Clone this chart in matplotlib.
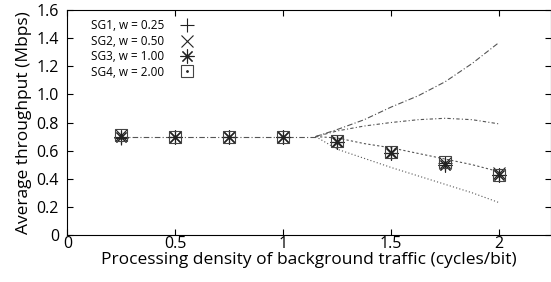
import matplotlib
matplotlib.use('Agg')
import matplotlib.pyplot as plt

# datos
x_pts = [0.25, 0.5, 0.75, 1.0, 1.25, 1.5, 1.75, 2.0]
sg1 = [0.69, 0.70, 0.70, 0.70, 0.66, 0.58, 0.51, 0.43]
sg2 = [0.71, 0.70, 0.70, 0.70, 0.67, 0.59, 0.51, 0.44]
sg3 = [0.70, 0.70, 0.70, 0.70, 0.66, 0.58, 0.50, 0.43]
sg4 = [0.71, 0.70, 0.70, 0.70, 0.67, 0.59, 0.52, 0.43]
labels = ['SG1, w = 0.25', 'SG2, w = 0.50', 'SG3, w = 1.00', 'SG4, w = 2.00']

# curvas teoricas
flat_x = [0.25, 1.15]
flat_y = [0.70, 0.70]
curve_x = [1.15, 1.25, 1.375, 1.5, 1.625, 1.75, 1.875, 2.0]
curve_a = [0.70, 0.75, 0.82, 0.91, 0.99, 1.09, 1.22, 1.37]
curve_b = [0.70, 0.74, 0.775, 0.80, 0.82, 0.83, 0.82, 0.79]
curve_c = [0.70, 0.69, 0.65, 0.62, 0.58, 0.54, 0.50, 0.45]
curve_d = [0.70, 0.61, 0.545, 0.48, 0.42, 0.36, 0.30, 0.23]

plt.rcParams['font.family'] = ['Open Sans', 'DejaVu Sans']

fig = plt.figure(figsize=(5.51, 2.82), dpi=100)
ax = fig.add_axes([0.1222, 0.1667, 0.8778, 0.7978])

lc = '#555555'
ax.plot(flat_x, flat_y, color=lc, lw=0.8, ls=(0, (5, 2, 1, 2)))
ax.plot(curve_x, curve_a, color=lc, lw=0.8, ls=(0, (5, 2, 1, 2)))
ax.plot(curve_x, curve_b, color=lc, lw=0.8, ls=(0, (3, 2, 1, 2)))
ax.plot(curve_x, curve_c, color=lc, lw=0.8, ls=(0, (2, 2)))
ax.plot(curve_x, curve_d, color=lc, lw=0.8, ls=(0, (1, 2)))

mc = '#222222'
h1, = ax.plot(x_pts, sg1, ls='none', marker='+', ms=10, mew=0.8, color=mc)
h2, = ax.plot(x_pts, sg2, ls='none', marker='x', ms=9, mew=0.8, color=mc)
h3, = ax.plot(x_pts, sg3, ls='none', marker=(8, 2, 0), ms=10, mew=0.8, color=mc)
h4a, = ax.plot(x_pts, sg4, ls='none', marker='s', ms=9, mew=0.8, mfc='none', color='#444444')
h4b, = ax.plot(x_pts, sg4, ls='none', marker='.', ms=2, color=mc)

ax.legend([h1, h2, h3, (h4a, h4b)], labels, loc='upper left', frameon=False,
          markerfirst=False, fontsize=8.5, handlelength=1.0, handletextpad=1.4,
          labelspacing=0.2, borderaxespad=0.4, bbox_to_anchor=(0.03, 1.0))

ax.set_xlim(0, 2.24)
ax.set_ylim(0, 1.6)
ax.set_xticks([0, 0.5, 1, 1.5, 2])
ax.set_xticklabels(['0', '0.5', '1', '1.5', '2'])
ax.set_yticks([0, 0.2, 0.4, 0.6, 0.8, 1.0, 1.2, 1.4, 1.6])
ax.set_yticklabels(['0', '0.2', '0.4', '0.6', '0.8', '1.0', '1.2', '1.4', '1.6'])
ax.tick_params(direction='in', top=True, right=True, labelsize=11.5, length=4)
ax.tick_params(axis='y', pad=6)
ax.tick_params(axis='x', pad=1)
ax.set_xlabel('Processing density of background traffic (cycles/bit)', fontsize=12.5, labelpad=0)
ax.set_ylabel('Average throughput (Mbps)', fontsize=12.5, labelpad=3)

fig.savefig('out.png', dpi=100)
